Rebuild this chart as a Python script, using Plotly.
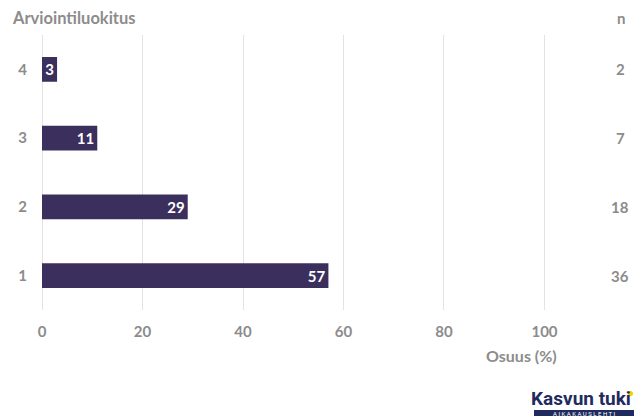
import plotly.graph_objects as go

categories = ["1", "2", "3", "4"]
shares = [57, 29, 11, 3]
counts = [36, 18, 7, 2]
x_ticks = [0, 20, 40, 60, 80, 100]

bar_color = "#3b2f5e"
gray = "#8c8c8c"
font_fam = "Lato"

fig = go.Figure()
fig.add_trace(go.Bar(
    y=categories, x=shares, orientation="h",
    marker=dict(color=bar_color, line=dict(width=0)),
    text=[str(v) for v in shares], textposition="inside",
    insidetextanchor="end", textangle=0,
    textfont=dict(color="white", size=15, family=font_fam, weight="bold"),
    cliponaxis=False,
))

L, R, T, B = 42, 94, 35, 106
W, H = 640, 416
pw = W - L - R
ph = H - T - B


def py(pix):
    """paper y from pixel y (top-down)"""
    return (H - B - pix) / ph


def px(pix):
    return (pix - L) / pw


for i, n in enumerate(counts):
    fig.add_annotation(x=px(620), xref="paper", y=i, yref="y",
                       text=str(n), showarrow=False, xanchor="center",
                       font=dict(size=15, color=gray, family=font_fam, weight="bold"))

fig.add_annotation(x=px(621), xref="paper", y=py(18), yref="paper",
                   text="n", showarrow=False, xanchor="center", yanchor="middle",
                   font=dict(size=15, color=gray, family=font_fam, weight="bold"))
fig.add_annotation(x=px(10), xref="paper", y=py(18), yref="paper",
                   text="Arviointiluokitus", showarrow=False, xanchor="left", yanchor="middle",
                   font=dict(size=16.5, color=gray, family=font_fam, weight="bold"))
fig.add_annotation(x=px(559), xref="paper", y=py(355), yref="paper",
                   text="Osuus (%)", showarrow=False, xanchor="right", yanchor="middle",
                   font=dict(size=16, color=gray, family=font_fam, weight="bold"))

# logo
fig.add_annotation(x=px(633), xref="paper", y=py(398), yref="paper",
                   text="Kasvun tuki", showarrow=False, xanchor="right", yanchor="middle",
                   font=dict(size=19, color="#1f2b5e", family="Roboto", weight="bold"))
fig.add_shape(type="rect", xref="paper", yref="paper",
              x0=px(534), x1=px(634), y0=py(417), y1=py(410),
              fillcolor="#1f2b5e", line=dict(width=0))
fig.add_annotation(x=px(584), xref="paper", y=py(413.5), yref="paper",
                   text="A I K A K A U S L E H T I", showarrow=False, xanchor="center", yanchor="middle",
                   font=dict(size=6, color="white", family="Roboto"))
fig.add_shape(type="circle", xref="paper", yref="paper",
              x0=px(628), x1=px(633), y0=py(396), y1=py(391),
              fillcolor="#f5d000", line=dict(width=0))

fig.update_layout(
    width=W, height=H,
    margin=dict(l=L, r=R, t=T, b=B),
    paper_bgcolor="white", plot_bgcolor="white",
    showlegend=False, bargap=0.64,
    font=dict(family=font_fam, color=gray),
    xaxis=dict(range=[0, 100.3], tickvals=x_ticks, showgrid=True, gridcolor="#e3e3e3",
               gridwidth=1, zeroline=True, zerolinecolor="#e3e3e3", zerolinewidth=1,
               showline=False, ticks="", ticklabelstandoff=11,
               tickfont=dict(size=15, color=gray, family=font_fam, weight="bold")),
    yaxis=dict(categoryorder="array", categoryarray=categories, showgrid=False,
               zeroline=False, showline=False, ticks="", ticklabelstandoff=14,
               range=[-0.5, 3.5],
               tickfont=dict(size=15, color=gray, family=font_fam, weight="bold")),
)

fig.write_html("out.html")
